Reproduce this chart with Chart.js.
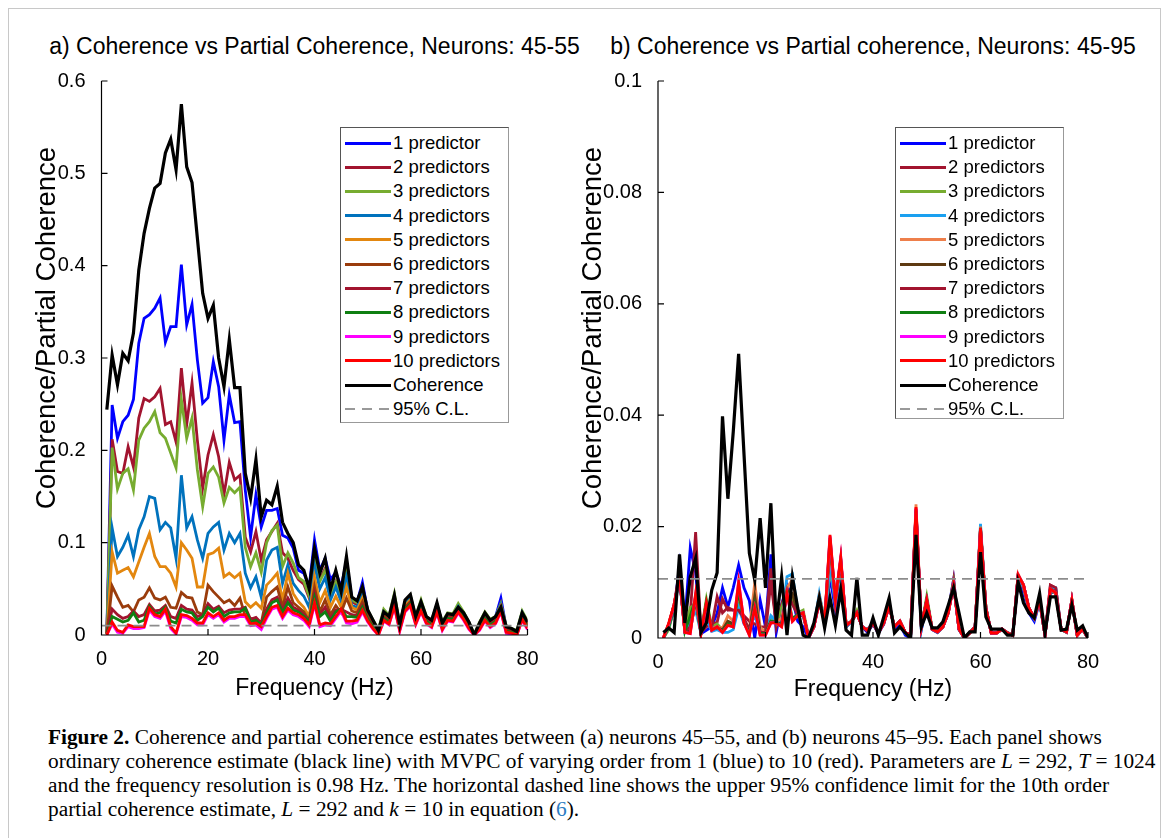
<!DOCTYPE html>
<html>
<head>
<meta charset="utf-8">
<script src="https://cdn.jsdelivr.net/npm/chart.js@4.4.1/dist/chart.umd.min.js"></script>
<style>
body { margin: 0; background: #fff; width: 1168px; height: 838px; overflow: hidden; position: relative; font-family: "Liberation Sans", Arial, sans-serif; color: #000; }
#frame { position: absolute; left: 8px; top: 8px; width: 1151px; height: 850px; border: 1.5px solid #c8c8c8; }
canvas { position: absolute; }
.ttl { position: absolute; top: 32px; height: 28px; line-height: 28px; font-size: 23px; white-space: nowrap; transform: translateX(-50%); }
.legend { position: absolute; border: 1px solid #555; border-right-color: #999; border-bottom-color: #999; background: #fff; }
.legend .smp { position: absolute; left: 4px; width: 46px; height: 3px; }
.legend .txt { position: absolute; left: 52px; height: 24px; line-height: 24px; font-size: 18.5px; white-space: nowrap; }
.cap { position: absolute; left: 48px; height: 24px; line-height: 24px; font-family: "Liberation Serif", "Times New Roman", serif; font-size: 20px; white-space: nowrap; transform-origin: 0 50%; }
</style>
</head>
<body>
<div id="frame"></div>
<div class="ttl" style="left:314.5px">a) Coherence vs Partial Coherence, Neurons: 45-55</div>
<div class="ttl" style="left:873px">b) Coherence vs Partial coherence, Neurons: 45-95</div>
<canvas id="chartA" width="560" height="720" style="left:0;top:0"></canvas>
<canvas id="chartB" width="584" height="720" style="left:560px;top:0"></canvas>
<div class="legend" id="legA" style="left:340px;top:127px;width:167px;height:294px"></div>
<div class="legend" id="legB" style="left:895px;top:127px;width:167px;height:290px"></div>
<div class="cap" style="top:725px"><b>Figure 2.</b> Coherence and partial coherence estimates between (a) neurons 45–55, and (b) neurons 45–95. Each panel shows</div>
<div class="cap" id="capRef" style="top:749px">ordinary coherence estimate (black line) with MVPC of varying order from 1 (blue) to 10 (red). Parameters are <i>L</i> = 292, <i>T</i> = 1024</div>
<div class="cap" style="top:773px">and the frequency resolution is 0.98 Hz. The horizontal dashed line shows the upper 95% confidence limit for the 10th order</div>
<div class="cap" style="top:797px">partial coherence estimate, <i>L</i> = 292 and <i>k</i> = 10 in equation (<span style="color:#2b7cc1">6</span>).</div>
<script>
// frequenze (Hz), passo di circa 1 Hz
const freq = [1,2,3,4,5,6,7,8,9,10,11,12,13,14,15,16,17,18,19,20,
  21,22,23,24,25,26,27,28,29,30,31,32,33,34,35,36,37,38,39,40,
  41,42,43,44,45,46,47,48,49,50,51,52,53,54,55,56,57,58,59,60,
  61,62,63,64,65,66,67,68,69,70,71,72,73,74,75,76,77,78,79,80];

const seriesLabels = ['1 predictor','2 predictors','3 predictors','4 predictors','5 predictors',
  '6 predictors','7 predictors','8 predictors','9 predictors','10 predictors','Coherence','95% C.L.'];

const colorsA = ['#0000FF','#A2142F','#77AC30','#0072BD','#E3870F','#9A3C0C','#A2142F','#0F7F12','#FF00FF','#FF0000'];
const colorsB = ['#0000FF','#A2142F','#77AC30','#1AA0F0','#EE7F4B','#5E3A12','#A2142F','#0F7F12','#FF00FF','#FF0000'];

const xTicks = [0, 20, 40, 60, 80];
const xTickLabels = ['0', '20', '40', '60', '80'];
const yTicksA = [0, 0.1, 0.2, 0.3, 0.4, 0.5, 0.6];
const yTickLabelsA = ['0', '0.1', '0.2', '0.3', '0.4', '0.5', '0.6'];
const yTicksB = [0, 0.02, 0.04, 0.06, 0.08, 0.1];
const yTickLabelsB = ['0', '0.02', '0.04', '0.06', '0.08', '0.1'];
const yTitle = 'Coherence/Partial Coherence';

// limite di confidenza al 95%
const clX = [0, 80];
const clA = [0.0101, 0.0101];
const clB = [0.0106, 0.0106];

// pannello a) neuroni 45-55
const cohA = [0.244,0.303,0.271,0.305,0.297,0.327,0.395,0.435,0.462,0.484,
  0.489,0.522,0.537,0.504,0.575,0.507,0.490,0.430,0.370,0.343,
  0.357,0.300,0.269,0.320,0.268,0.268,0.175,0.148,0.190,0.128,
  0.146,0.141,0.161,0.122,0.110,0.100,0.076,0.070,0.050,0.094,
  0.067,0.083,0.049,0.070,0.047,0.085,0.041,0.037,0.052,0.027,
  0.016,0.005,0.025,0.020,0.043,0.011,0.038,0.044,0.020,0.036,
  0.020,0.016,0.035,0.013,0.023,0.022,0.030,0.024,0.014,0.000,
  0.013,0.024,0.016,0.020,0.030,0.009,0.007,0.004,0.024,0.014];
const p1A = [0.003,0.249,0.213,0.231,0.238,0.255,0.316,0.343,0.347,0.354,
  0.365,0.317,0.334,0.334,0.401,0.336,0.358,0.298,0.251,0.257,
  0.296,0.269,0.211,0.260,0.230,0.231,0.157,0.106,0.152,0.117,
  0.135,0.135,0.137,0.108,0.105,0.094,0.070,0.067,0.052,0.103,
  0.070,0.083,0.060,0.068,0.052,0.080,0.040,0.036,0.057,0.026,
  0.015,0.004,0.024,0.019,0.042,0.010,0.036,0.042,0.018,0.034,
  0.018,0.015,0.033,0.012,0.022,0.021,0.029,0.023,0.013,0.000,
  0.012,0.023,0.015,0.020,0.040,0.008,0.006,0.003,0.023,0.013];
const p2A = [0.002,0.212,0.177,0.175,0.204,0.182,0.235,0.256,0.253,0.258,
  0.267,0.228,0.231,0.209,0.289,0.228,0.273,0.211,0.159,0.195,
  0.217,0.193,0.152,0.187,0.168,0.173,0.106,0.090,0.112,0.081,
  0.103,0.112,0.121,0.089,0.083,0.070,0.060,0.055,0.040,0.088,
  0.060,0.072,0.045,0.058,0.042,0.070,0.036,0.033,0.048,0.025,
  0.014,0.004,0.024,0.019,0.041,0.010,0.036,0.041,0.018,0.034,
  0.019,0.015,0.033,0.012,0.022,0.021,0.030,0.023,0.013,0.000,
  0.012,0.023,0.015,0.019,0.034,0.008,0.006,0.003,0.023,0.013];
const p3A = [0.002,0.203,0.158,0.175,0.180,0.157,0.211,0.224,0.231,0.242,
  0.219,0.213,0.197,0.181,0.255,0.213,0.235,0.179,0.139,0.175,
  0.182,0.171,0.143,0.160,0.154,0.160,0.095,0.074,0.089,0.068,
  0.100,0.113,0.119,0.074,0.089,0.078,0.062,0.058,0.042,0.085,
  0.058,0.070,0.044,0.057,0.041,0.068,0.038,0.035,0.050,0.027,
  0.016,0.006,0.028,0.021,0.045,0.012,0.036,0.043,0.020,0.038,
  0.020,0.016,0.033,0.014,0.024,0.023,0.034,0.025,0.014,0.001,
  0.014,0.025,0.017,0.020,0.034,0.010,0.007,0.005,0.026,0.015];
const p4A = [0.002,0.116,0.085,0.095,0.108,0.085,0.114,0.128,0.150,0.148,
  0.114,0.122,0.116,0.083,0.173,0.116,0.128,0.103,0.083,0.110,
  0.117,0.122,0.092,0.110,0.100,0.110,0.067,0.051,0.063,0.041,
  0.081,0.092,0.095,0.056,0.076,0.056,0.048,0.042,0.030,0.076,
  0.050,0.062,0.038,0.052,0.036,0.062,0.032,0.030,0.044,0.024,
  0.013,0.003,0.025,0.019,0.040,0.010,0.034,0.040,0.018,0.035,
  0.019,0.015,0.032,0.012,0.022,0.021,0.031,0.023,0.013,0.000,
  0.012,0.022,0.015,0.019,0.033,0.008,0.006,0.003,0.024,0.013];
const p5A = [0.001,0.090,0.067,0.070,0.073,0.063,0.079,0.095,0.110,0.085,
  0.074,0.074,0.067,0.052,0.100,0.092,0.083,0.052,0.052,0.087,
  0.089,0.094,0.063,0.067,0.062,0.067,0.036,0.030,0.035,0.029,
  0.054,0.060,0.067,0.038,0.067,0.045,0.036,0.030,0.020,0.063,
  0.035,0.048,0.030,0.042,0.030,0.052,0.030,0.027,0.040,0.022,
  0.012,0.002,0.022,0.017,0.038,0.009,0.032,0.038,0.017,0.032,
  0.018,0.014,0.030,0.011,0.021,0.020,0.029,0.022,0.012,0.000,
  0.011,0.021,0.014,0.018,0.031,0.007,0.005,0.002,0.022,0.012];
const p6A = [0.001,0.053,0.041,0.030,0.032,0.025,0.038,0.041,0.051,0.040,
  0.038,0.041,0.030,0.029,0.046,0.041,0.040,0.025,0.022,0.054,
  0.047,0.041,0.035,0.038,0.032,0.040,0.020,0.018,0.017,0.013,
  0.041,0.047,0.052,0.030,0.052,0.035,0.030,0.025,0.015,0.052,
  0.025,0.038,0.022,0.032,0.024,0.040,0.026,0.024,0.036,0.020,
  0.011,0.002,0.020,0.016,0.036,0.008,0.030,0.036,0.016,0.030,
  0.017,0.013,0.029,0.010,0.020,0.019,0.028,0.021,0.011,0.000,
  0.010,0.020,0.013,0.017,0.030,0.006,0.004,0.002,0.021,0.011];
const p7A = [0.002,0.028,0.022,0.018,0.020,0.026,0.020,0.022,0.033,0.026,
  0.027,0.032,0.020,0.018,0.032,0.028,0.027,0.020,0.022,0.034,
  0.028,0.031,0.024,0.027,0.028,0.028,0.030,0.017,0.019,0.013,
  0.028,0.038,0.041,0.027,0.040,0.030,0.027,0.022,0.015,0.045,
  0.022,0.030,0.018,0.027,0.028,0.025,0.022,0.021,0.032,0.018,
  0.010,0.001,0.019,0.015,0.034,0.007,0.029,0.035,0.015,0.029,
  0.016,0.012,0.028,0.009,0.019,0.018,0.027,0.020,0.010,0.000,
  0.009,0.019,0.012,0.016,0.029,0.005,0.004,0.001,0.020,0.010];
const p8A = [0.001,0.020,0.017,0.014,0.016,0.024,0.014,0.016,0.031,0.023,
  0.024,0.030,0.015,0.013,0.028,0.025,0.024,0.016,0.020,0.030,
  0.025,0.029,0.020,0.024,0.025,0.025,0.029,0.014,0.016,0.011,
  0.024,0.035,0.038,0.024,0.035,0.027,0.025,0.020,0.014,0.041,
  0.020,0.025,0.015,0.025,0.028,0.020,0.020,0.019,0.030,0.017,
  0.009,0.001,0.018,0.014,0.033,0.006,0.028,0.034,0.014,0.028,
  0.015,0.011,0.027,0.008,0.018,0.017,0.027,0.019,0.009,0.000,
  0.008,0.018,0.011,0.015,0.028,0.004,0.003,0.001,0.019,0.009];
const p9A = [0.000,0.012,0.003,0.002,0.009,0.007,0.007,0.008,0.027,0.020,
  0.018,0.026,0.007,0.001,0.020,0.019,0.016,0.011,0.011,0.022,
  0.018,0.022,0.014,0.018,0.018,0.020,0.020,0.010,0.011,0.006,
  0.018,0.028,0.030,0.018,0.027,0.022,0.020,0.016,0.009,0.033,
  0.009,0.011,0.010,0.018,0.026,0.013,0.012,0.014,0.025,0.014,
  0.006,0.000,0.015,0.011,0.030,0.004,0.025,0.031,0.011,0.025,
  0.012,0.008,0.024,0.005,0.015,0.014,0.024,0.016,0.006,0.000,
  0.005,0.015,0.008,0.012,0.025,0.002,0.001,0.000,0.016,0.006];
const p10A = [0.000,0.014,0.005,0.003,0.011,0.009,0.009,0.009,0.029,0.022,
  0.020,0.028,0.009,0.002,0.022,0.021,0.018,0.013,0.013,0.024,
  0.020,0.024,0.016,0.020,0.020,0.022,0.022,0.012,0.013,0.009,
  0.020,0.030,0.032,0.020,0.029,0.024,0.022,0.018,0.011,0.035,
  0.011,0.013,0.012,0.020,0.028,0.015,0.015,0.016,0.027,0.015,
  0.007,0.000,0.016,0.012,0.031,0.005,0.026,0.032,0.012,0.026,
  0.013,0.009,0.025,0.006,0.016,0.015,0.025,0.017,0.007,0.000,
  0.006,0.016,0.009,0.013,0.026,0.003,0.002,0.000,0.017,0.007];

// pannello b) neuroni 45-95
const cohB = [0.0010,0.0018,0.0010,0.0150,0.0027,0.0110,0.0143,0.0010,0.0027,0.0086,
  0.0117,0.0398,0.0250,0.0370,0.0510,0.0330,0.0152,0.0104,0.0215,0.0090,
  0.0242,0.0027,0.0110,0.0005,0.0110,0.0054,0.0005,0.0000,0.0027,0.0072,
  0.0018,0.0072,0.0023,0.0086,0.0014,0.0005,0.0108,0.0005,0.0005,0.0036,
  0.0005,0.0038,0.0072,0.0009,0.0020,0.0009,0.0000,0.0185,0.0020,0.0045,
  0.0018,0.0018,0.0029,0.0059,0.0090,0.0045,0.0000,0.0011,0.0011,0.0154,
  0.0038,0.0016,0.0016,0.0016,0.0005,0.0005,0.0100,0.0063,0.0045,0.0036,
  0.0080,0.0009,0.0074,0.0074,0.0014,0.0016,0.0059,0.0014,0.0022,0.0000];
const q1B = [0.0000,0.0020,0.0050,0.0130,0.0030,0.0162,0.0117,0.0008,0.0014,0.0020,
  0.0045,0.0090,0.0056,0.0090,0.0131,0.0090,0.0067,0.0000,0.0068,0.0020,
  0.0150,0.0010,0.0060,0.0095,0.0070,0.0030,0.0020,0.0000,0.0020,0.0075,
  0.0025,0.0110,0.0050,0.0100,0.0020,0.0030,0.0045,0.0020,0.0010,0.0025,
  0.0008,0.0025,0.0065,0.0015,0.0025,0.0005,0.0000,0.0215,0.0015,0.0060,
  0.0015,0.0010,0.0020,0.0050,0.0105,0.0015,0.0000,0.0010,0.0020,0.0185,
  0.0050,0.0010,0.0010,0.0015,0.0010,0.0005,0.0105,0.0080,0.0045,0.0030,
  0.0065,0.0005,0.0080,0.0085,0.0015,0.0010,0.0065,0.0005,0.0015,0.0000];
const q2B = [0.0000,0.0020,0.0060,0.0120,0.0020,0.0040,0.0190,0.0010,0.0020,0.0025,
  0.0028,0.0070,0.0050,0.0050,0.0048,0.0040,0.0030,0.0025,0.0020,0.0020,
  0.0125,0.0020,0.0060,0.0090,0.0070,0.0040,0.0040,0.0000,0.0020,0.0070,
  0.0030,0.0150,0.0060,0.0130,0.0020,0.0030,0.0045,0.0020,0.0012,0.0025,
  0.0010,0.0025,0.0060,0.0020,0.0030,0.0010,0.0005,0.0225,0.0020,0.0065,
  0.0015,0.0010,0.0020,0.0045,0.0105,0.0015,0.0000,0.0010,0.0020,0.0190,
  0.0050,0.0010,0.0010,0.0015,0.0010,0.0005,0.0110,0.0090,0.0050,0.0035,
  0.0065,0.0005,0.0095,0.0090,0.0015,0.0010,0.0065,0.0005,0.0015,0.0000];
const q3B = [0.0000,0.0015,0.0055,0.0110,0.0015,0.0055,0.0060,0.0010,0.0070,0.0020,
  0.0025,0.0015,0.0030,0.0025,0.0060,0.0030,0.0010,0.0060,0.0010,0.0015,
  0.0035,0.0025,0.0055,0.0085,0.0075,0.0045,0.0050,0.0005,0.0020,0.0075,
  0.0035,0.0120,0.0070,0.0110,0.0025,0.0030,0.0050,0.0020,0.0015,0.0030,
  0.0010,0.0030,0.0060,0.0020,0.0030,0.0010,0.0005,0.0225,0.0020,0.0075,
  0.0018,0.0012,0.0022,0.0050,0.0100,0.0018,0.0000,0.0010,0.0020,0.0195,
  0.0055,0.0010,0.0010,0.0015,0.0010,0.0005,0.0110,0.0090,0.0050,0.0035,
  0.0065,0.0005,0.0085,0.0080,0.0015,0.0010,0.0065,0.0005,0.0015,0.0000];
const q4B = [0.0000,0.0020,0.0055,0.0105,0.0012,0.0030,0.0050,0.0008,0.0035,0.0012,
  0.0015,0.0010,0.0010,0.0015,0.0055,0.0025,0.0020,0.0040,0.0010,0.0010,
  0.0040,0.0030,0.0030,0.0110,0.0115,0.0050,0.0040,0.0005,0.0020,0.0080,
  0.0030,0.0130,0.0060,0.0120,0.0020,0.0030,0.0045,0.0020,0.0015,0.0030,
  0.0010,0.0028,0.0060,0.0020,0.0030,0.0008,0.0003,0.0230,0.0015,0.0065,
  0.0016,0.0010,0.0020,0.0048,0.0095,0.0015,0.0000,0.0010,0.0020,0.0205,
  0.0055,0.0009,0.0009,0.0016,0.0009,0.0005,0.0110,0.0092,0.0050,0.0034,
  0.0066,0.0005,0.0088,0.0090,0.0016,0.0011,0.0066,0.0005,0.0016,0.0000];
const q5B = [0.0000,0.0025,0.0060,0.0110,0.0012,0.0015,0.0065,0.0008,0.0050,0.0018,
  0.0020,0.0018,0.0040,0.0030,0.0080,0.0030,0.0015,0.0099,0.0020,0.0010,
  0.0030,0.0030,0.0035,0.0090,0.0105,0.0045,0.0045,0.0002,0.0020,0.0075,
  0.0030,0.0160,0.0065,0.0135,0.0022,0.0030,0.0045,0.0020,0.0014,0.0028,
  0.0009,0.0028,0.0058,0.0020,0.0030,0.0010,0.0005,0.0240,0.0020,0.0068,
  0.0016,0.0011,0.0020,0.0046,0.0095,0.0016,0.0000,0.0009,0.0020,0.0200,
  0.0055,0.0009,0.0009,0.0016,0.0009,0.0005,0.0115,0.0095,0.0054,0.0036,
  0.0068,0.0005,0.0088,0.0081,0.0016,0.0011,0.0068,0.0005,0.0016,0.0000];
const q6B = [0.0000,0.0025,0.0060,0.0110,0.0012,0.0012,0.0070,0.0008,0.0055,0.0015,
  0.0018,0.0015,0.0030,0.0025,0.0090,0.0028,0.0010,0.0075,0.0010,0.0008,
  0.0030,0.0028,0.0025,0.0085,0.0080,0.0042,0.0045,0.0001,0.0020,0.0070,
  0.0030,0.0170,0.0066,0.0140,0.0022,0.0030,0.0045,0.0020,0.0014,0.0027,
  0.0009,0.0027,0.0057,0.0020,0.0030,0.0010,0.0005,0.0230,0.0020,0.0068,
  0.0016,0.0011,0.0020,0.0045,0.0095,0.0016,0.0000,0.0009,0.0020,0.0198,
  0.0054,0.0009,0.0009,0.0016,0.0009,0.0005,0.0112,0.0095,0.0054,0.0036,
  0.0068,0.0005,0.0088,0.0083,0.0016,0.0011,0.0068,0.0005,0.0016,0.0000];
const q7B = [0.0000,0.0025,0.0060,0.0110,0.0012,0.0020,0.0075,0.0008,0.0050,0.0020,
  0.0074,0.0045,0.0055,0.0050,0.0050,0.0035,0.0015,0.0060,0.0010,0.0010,
  0.0100,0.0025,0.0025,0.0080,0.0060,0.0042,0.0045,0.0001,0.0020,0.0068,
  0.0030,0.0175,0.0067,0.0140,0.0023,0.0030,0.0045,0.0020,0.0014,0.0027,
  0.0009,0.0027,0.0056,0.0020,0.0030,0.0010,0.0005,0.0232,0.0020,0.0068,
  0.0016,0.0011,0.0020,0.0045,0.0095,0.0016,0.0000,0.0009,0.0020,0.0196,
  0.0054,0.0009,0.0009,0.0016,0.0009,0.0005,0.0112,0.0095,0.0054,0.0036,
  0.0068,0.0005,0.0095,0.0090,0.0016,0.0011,0.0068,0.0005,0.0016,0.0000];
const q8B = [0.0000,0.0020,0.0055,0.0110,0.0012,0.0040,0.0070,0.0008,0.0065,0.0015,
  0.0020,0.0012,0.0025,0.0020,0.0085,0.0028,0.0008,0.0060,0.0008,0.0008,
  0.0030,0.0028,0.0022,0.0082,0.0035,0.0042,0.0045,0.0001,0.0020,0.0065,
  0.0030,0.0180,0.0067,0.0142,0.0023,0.0030,0.0045,0.0020,0.0014,0.0027,
  0.0009,0.0027,0.0056,0.0020,0.0030,0.0010,0.0005,0.0228,0.0020,0.0070,
  0.0016,0.0011,0.0020,0.0045,0.0095,0.0016,0.0000,0.0009,0.0020,0.0196,
  0.0054,0.0009,0.0009,0.0016,0.0009,0.0005,0.0112,0.0095,0.0054,0.0036,
  0.0068,0.0005,0.0088,0.0081,0.0016,0.0011,0.0068,0.0005,0.0016,0.0000];
const q9B = [0.0000,0.0025,0.0058,0.0110,0.0010,0.0008,0.0078,0.0008,0.0060,0.0014,
  0.0020,0.0010,0.0022,0.0020,0.0102,0.0027,0.0005,0.0054,0.0005,0.0005,
  0.0027,0.0027,0.0020,0.0080,0.0030,0.0040,0.0045,0.0000,0.0020,0.0063,
  0.0030,0.0183,0.0068,0.0145,0.0023,0.0030,0.0045,0.0020,0.0014,0.0027,
  0.0009,0.0027,0.0056,0.0020,0.0030,0.0010,0.0005,0.0233,0.0020,0.0068,
  0.0016,0.0011,0.0020,0.0045,0.0095,0.0016,0.0000,0.0009,0.0020,0.0196,
  0.0054,0.0009,0.0009,0.0016,0.0009,0.0005,0.0113,0.0095,0.0054,0.0036,
  0.0068,0.0005,0.0088,0.0081,0.0016,0.0011,0.0068,0.0005,0.0016,0.0000];
const q10B = [0.0000,0.0027,0.0060,0.0110,0.0010,0.0008,0.0080,0.0008,0.0063,0.0014,
  0.0020,0.0010,0.0023,0.0020,0.0100,0.0027,0.0005,0.0054,0.0005,0.0005,
  0.0027,0.0027,0.0020,0.0080,0.0030,0.0040,0.0045,0.0000,0.0020,0.0063,
  0.0030,0.0185,0.0068,0.0145,0.0023,0.0030,0.0045,0.0020,0.0014,0.0027,
  0.0009,0.0027,0.0056,0.0020,0.0030,0.0010,0.0005,0.0235,0.0020,0.0068,
  0.0016,0.0011,0.0020,0.0045,0.0095,0.0016,0.0000,0.0009,0.0020,0.0197,
  0.0054,0.0009,0.0009,0.0016,0.0009,0.0005,0.0113,0.0095,0.0054,0.0036,
  0.0068,0.0005,0.0088,0.0081,0.0016,0.0011,0.0068,0.0005,0.0016,0.0000];

const predA = [p1A, p2A, p3A, p4A, p5A, p6A, p7A, p8A, p9A, p10A];
const predB = [q1B, q2B, q3B, q4B, q5B, q6B, q7B, q8B, q9B, q10B];

// assi in stile MATLAB: solo sinistra e sotto, tacche verso l'interno, titolo asse y
const assiInterni = {
  id: 'assiInterni',
  afterDatasetsDraw(chart, args, opts) {
    const { ctx, chartArea: a, scales: { x, y } } = chart;
    ctx.save();
    ctx.strokeStyle = '#000';
    ctx.lineWidth = 1.2;
    ctx.beginPath();
    ctx.moveTo(a.left, a.top);
    ctx.lineTo(a.left, a.bottom);
    ctx.lineTo(a.right, a.bottom);
    x.ticks.forEach(t => {
      const px = x.getPixelForValue(t.value);
      ctx.moveTo(px, a.bottom);
      ctx.lineTo(px, a.bottom - 6);
    });
    y.ticks.forEach(t => {
      const py = y.getPixelForValue(t.value);
      ctx.moveTo(a.left, py);
      ctx.lineTo(a.left + 6, py);
    });
    ctx.stroke();

    ctx.translate(opts.titleX, opts.titleY);
    ctx.rotate(-Math.PI / 2);
    ctx.fillStyle = '#000';
    ctx.font = '27.5px "Liberation Sans"';
    ctx.textAlign = 'center';
    ctx.textBaseline = 'middle';
    ctx.fillText(yTitle, 0, 0);
    ctx.restore();
  }
};

function punti(vals) {
  return freq.map((f, i) => ({ x: f, y: vals[i] }));
}

function creaGrafico(id, pred, colors, coh, cl, yMax, yTicks, yLabels, geo) {
  const datasets = pred.map((vals, i) => ({
    label: seriesLabels[i],
    data: punti(vals),
    borderColor: colors[i],
    borderWidth: 2.8,
    order: 11 - i
  }));
  datasets.push({ label: 'Coherence', data: punti(coh), borderColor: '#000', borderWidth: 3.2, order: 1 });
  datasets.push({
    label: '95% C.L.',
    data: clX.map((f, i) => ({ x: f, y: cl[i] })),
    borderColor: '#8c8c8c', borderWidth: 1.8, borderDash: [10, 6], order: 0
  });

  new Chart(document.getElementById(id), {
    type: 'line',
    data: { datasets },
    options: {
      responsive: false,
      animation: false,
      devicePixelRatio: 1,
      elements: { point: { radius: 0 }, line: { tension: 0, fill: false } },
      layout: { padding: { left: 0, right: geo.padRight, top: 81, bottom: geo.padBottom } },
      plugins: {
        legend: { display: false },
        tooltip: { enabled: false },
        assiInterni: { titleX: geo.titleX, titleY: 328 }
      },
      scales: {
        x: {
          type: 'linear', min: 0, max: 80,
          afterBuildTicks: s => { s.ticks = xTicks.map(v => ({ value: v })); },
          afterFit: s => { s.height = geo.xHeight; },
          grid: { display: false }, border: { display: false },
          ticks: { callback: (v, i) => xTickLabels[i], color: '#000', font: { size: 20, family: 'Liberation Sans' }, padding: 4, maxRotation: 0 },
          title: { display: true, text: 'Frequency (Hz)', color: '#000', font: { size: 23, family: 'Liberation Sans' }, padding: 0 }
        },
        y: {
          min: 0, max: yMax,
          afterBuildTicks: s => { s.ticks = yTicks.map(v => ({ value: v })); },
          afterFit: s => { s.width = geo.yWidth; },
          grid: { display: false }, border: { display: false },
          ticks: { callback: (v, i) => yLabels[i], color: '#000', font: { size: 20, family: 'Liberation Sans' }, padding: 8 },
          title: { display: false }
        }
      }
    },
    plugins: [assiInterni]
  });
}

creaGrafico('chartA', predA, colorsA, cohA, clA, 0.6, yTicksA, yTickLabelsA,
  { padRight: 32.5, padBottom: 18, xHeight: 67, yWidth: 101.5, titleX: 47 });
creaGrafico('chartB', predB, colorsB, cohB, clB, 0.1, yTicksB, yTickLabelsB,
  { padRight: 56, padBottom: 16.8, xHeight: 65.2, yWidth: 98, titleX: 33 });

// legenda con bordo, dentro l'area del grafico
function creaLegenda(id, colors) {
  const box = document.getElementById(id);
  seriesLabels.forEach((lab, i) => {
    const cy = 15 + i * 24.2;
    const smp = document.createElement('div');
    smp.className = 'smp';
    smp.style.top = (cy - 1.5) + 'px';
    if (i < 10) smp.style.background = colors[i];
    else if (i === 10) smp.style.background = '#000';
    else { smp.style.height = '2px'; smp.style.background = 'repeating-linear-gradient(90deg, #999 0 10px, transparent 10px 17px)'; }
    const txt = document.createElement('div');
    txt.className = 'txt';
    txt.style.top = (cy - 12) + 'px';
    txt.textContent = lab;
    box.appendChild(smp);
    box.appendChild(txt);
  });
}
creaLegenda('legA', colorsA);
creaLegenda('legB', colorsB);

// didascalia: stessa compressione orizzontale per tutte le righe
const ref = document.getElementById('capRef');
const k = 1107 / ref.scrollWidth;
document.querySelectorAll('.cap').forEach(el => { el.style.transform = 'scaleX(' + k + ')'; });
</script>
</body>
</html>
